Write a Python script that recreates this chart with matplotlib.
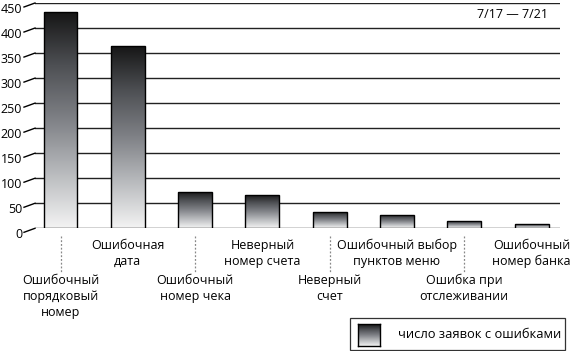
import matplotlib
matplotlib.use('Agg')

import numpy as np
import matplotlib.pyplot as plt
import matplotlib.transforms as mtransforms
from matplotlib.colors import LinearSegmentedColormap
from matplotlib.patches import Rectangle

plt.rcParams['font.family'] = ['Open Sans', 'DejaVu Sans']

# -------------------
# Data
# -------------------
categories = [
    'Ошибочный\nпорядковый\nномер',
    'Ошибочная\nдата',
    'Ошибочный\nномер чека',
    'Неверный\nномер счета',
    'Неверный\nсчет',
    'Ошибочный выбор\nпунктов меню',
    'Ошибка при\nотслеживании',
    'Ошибочный\nномер банка',
]
counts = [432, 365, 73, 67, 33, 27, 15, 9]
yticks = [0, 50, 100, 150, 200, 250, 300, 350, 400, 450]
period = '7/17 — 7/21'
legend_label = 'число заявок с ошибками'

W, H = 580, 351

# gradient: dark at the top, almost white at the bottom
cmap = LinearSegmentedColormap.from_list(
    'bar', [(0.0, '#f3f3f3'), (0.25, '#b9bbbe'), (0.5, '#7f8186'),
            (0.75, '#4e5054'), (1.0, '#151515')])
grad = np.linspace(0, 1, 256).reshape(-1, 1)

fig = plt.figure(figsize=(W / 100, H / 100), dpi=100)
ax = fig.add_axes([35 / W, 1 - 228.3 / H, 525 / W, 225.3 / H])

# grid lines
for t in yticks:
    ax.axhline(t, color='#222222', lw=1.0, zorder=1)

# bars with vertical gradient
x = np.arange(len(counts))
bars = ax.bar(x, counts, width=0.505, facecolor='none', edgecolor='black',
              linewidth=1.0, zorder=3)
for b in bars:
    x0, w, h = b.get_x(), b.get_width(), b.get_height()
    im = ax.imshow(grad, extent=[x0, x0 + w, 0, h], origin='lower',
                   aspect='auto', cmap=cmap, zorder=2)
    im.set_clip_path(b)

ax.set_xlim(-0.379, 7.422)
ax.set_ylim(0, 450)
ax.set_xticks([])
ax.set_yticks([])
for s in ax.spines.values():
    s.set_visible(False)

# slanted tick marks and labels on the left
ytr = ax.get_yaxis_transform()
for t in yticks:
    ax.plot([-11 / 525, 0], [t - 8, t], color='black', lw=1.0,
            transform=ytr, clip_on=False)
    ax.text(-13 / 525, t - 12, str(t), transform=ytr, ha='right',
            va='center', fontsize=9)

# category labels, alternating rows
xf = mtransforms.blended_transform_factory(ax.transData, fig.transFigure)
for i, lab in enumerate(categories):
    if i % 2 == 0:
        ax.plot([i, i], [1 - 236 / H, 1 - 273 / H], transform=xf,
                color='#888888', lw=0.9, ls=(0, (1.5, 1.5)), clip_on=False)
        ax.text(i, 1 - 274 / H, lab, transform=xf, ha='center', va='top',
                fontsize=9, linespacing=1.3)
    else:
        ax.text(i, 1 - 239 / H, lab, transform=xf, ha='center', va='top',
                fontsize=9, linespacing=1.3)

# date range
fig.text(548 / W, 1 - 15 / H, period, ha='right', va='center', fontsize=9)

# legend box
fig.add_artist(Rectangle((350 / W, 1 - 350 / H), 215 / W, 32 / H,
                         transform=fig.transFigure, facecolor='white',
                         edgecolor='#333333', lw=0.9, zorder=-1))
lax = fig.add_axes([358 / W, 1 - 346 / H, 22 / W, 22 / H])
lax.set_zorder(5)
lax.imshow(grad, origin='lower', aspect='auto', cmap=cmap)
lax.set_xticks([])
lax.set_yticks([])
for s in lax.spines.values():
    s.set_color('black')
    s.set_linewidth(1.0)
fig.text(398 / W, 1 - 335 / H, legend_label, ha='left', va='center',
         fontsize=9.3)

fig.savefig('out.png', dpi=100)
